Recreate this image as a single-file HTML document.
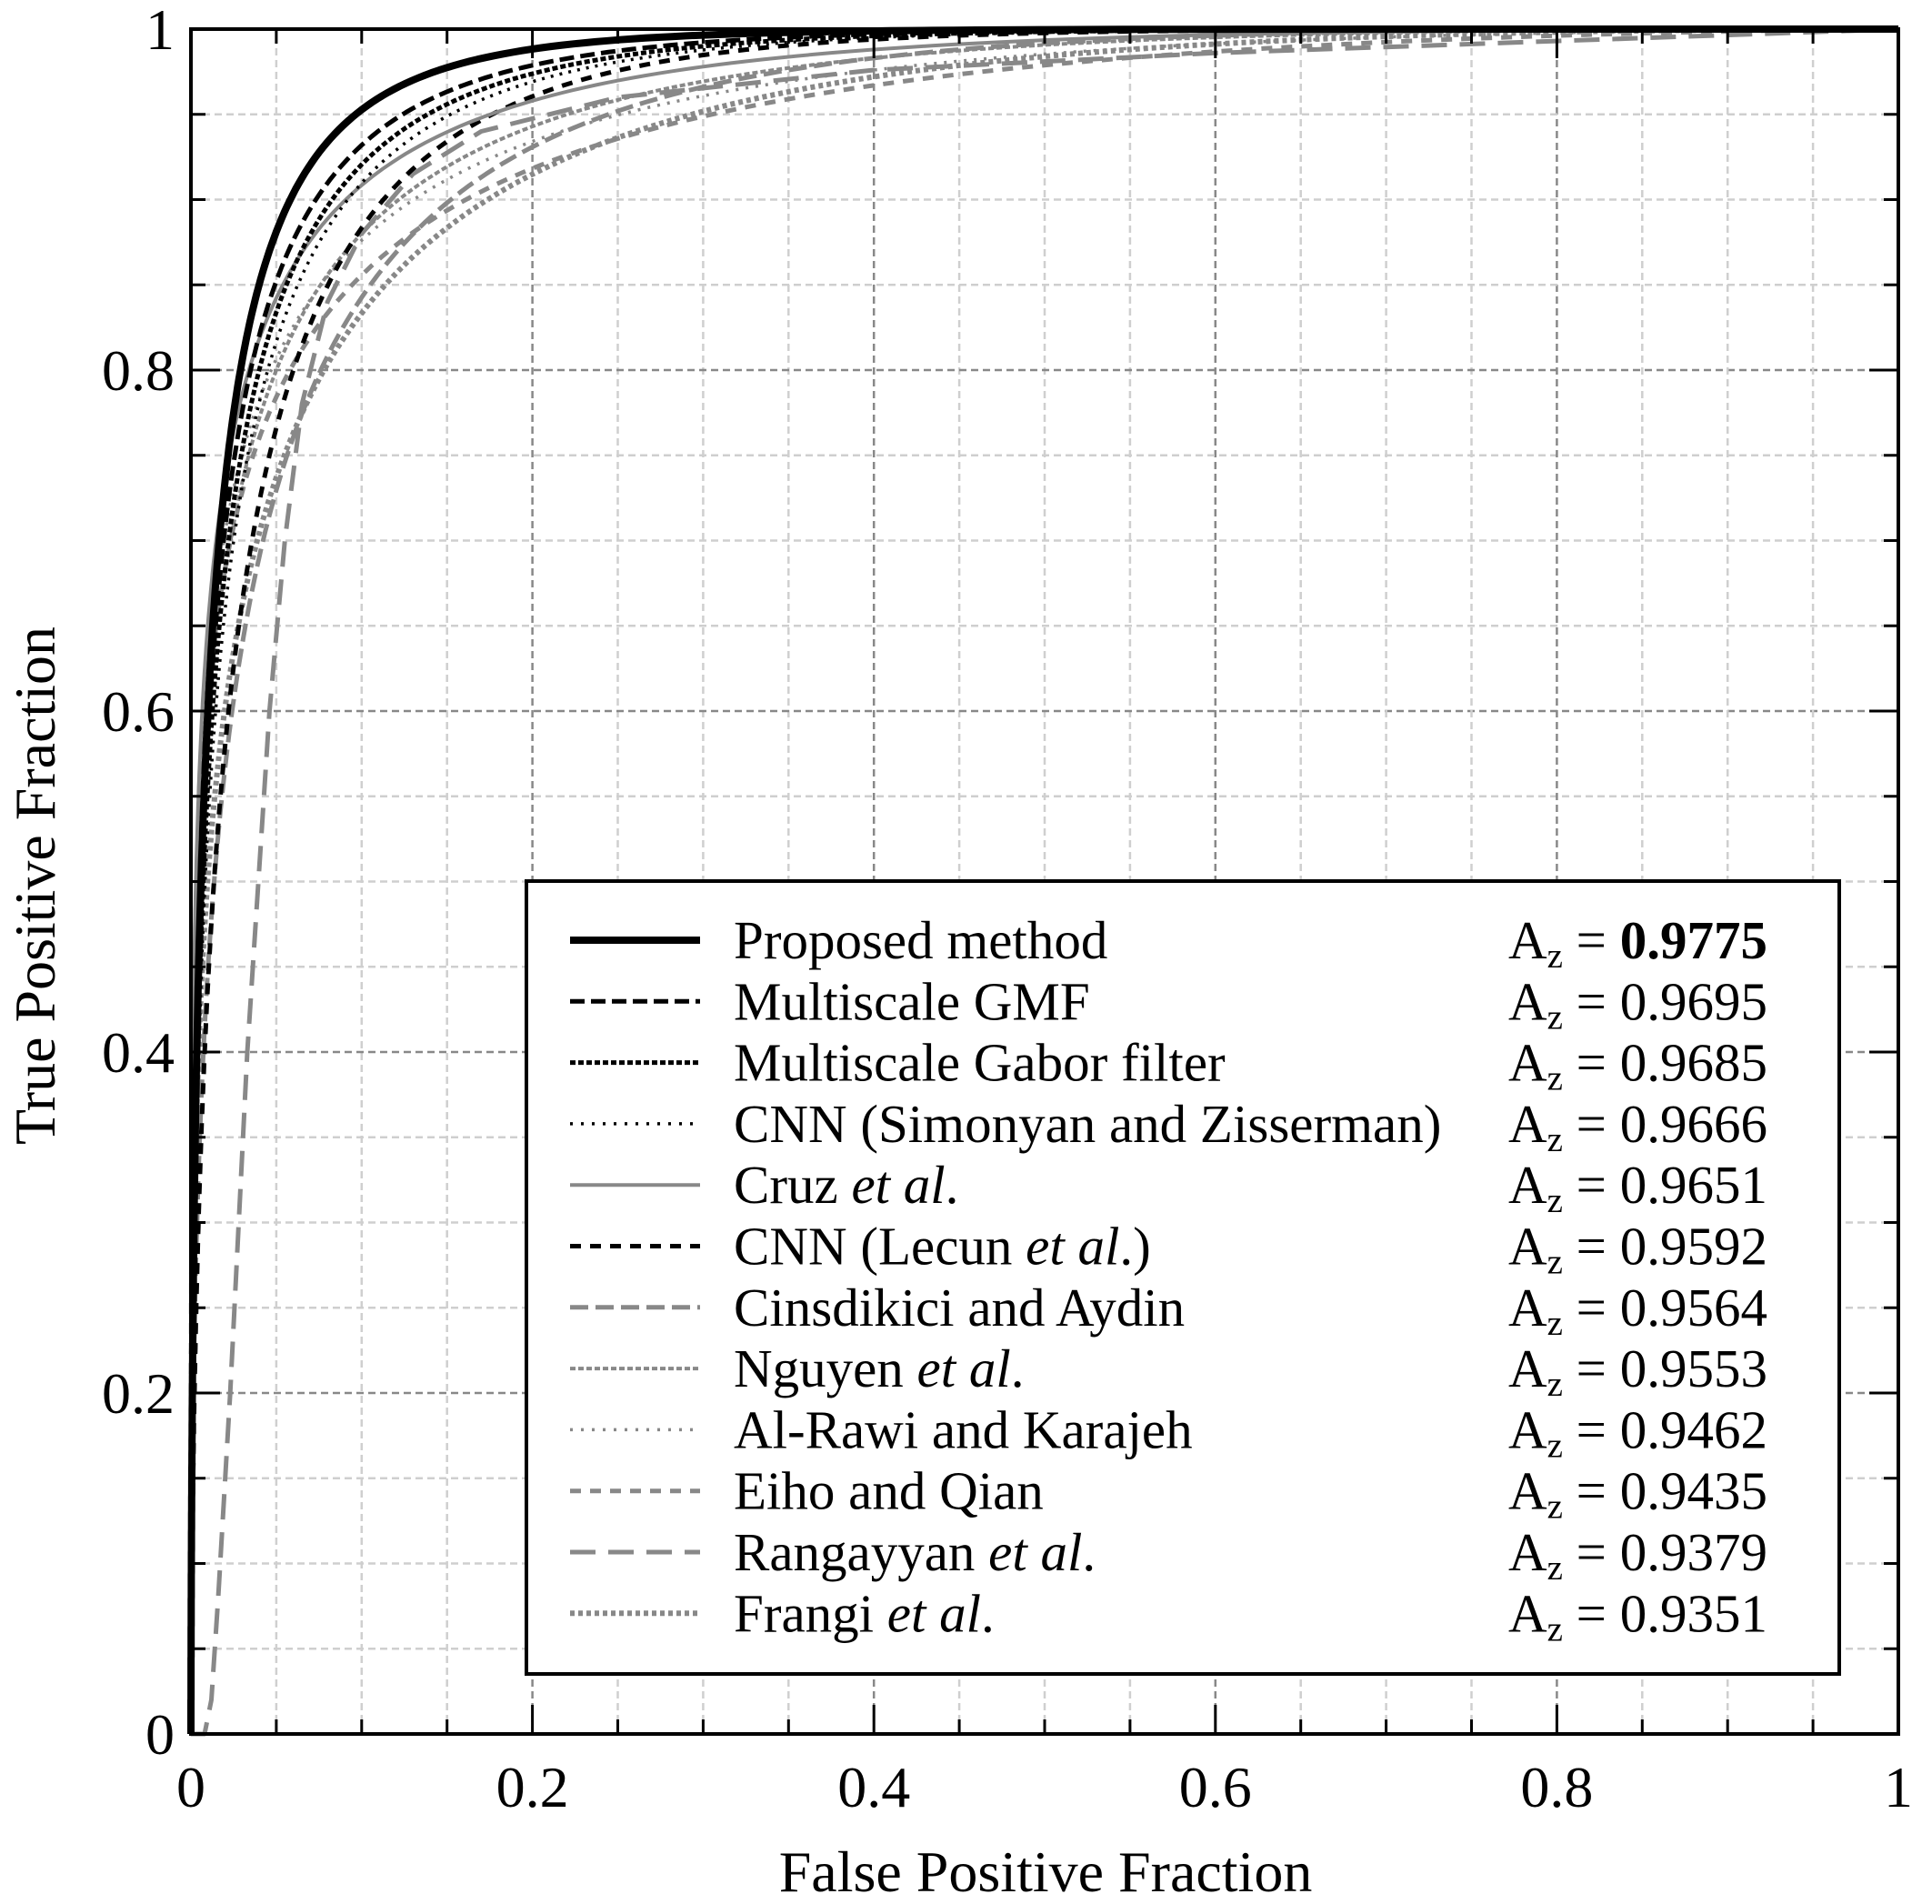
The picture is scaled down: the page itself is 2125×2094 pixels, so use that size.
<!DOCTYPE html>
<html><head><meta charset="utf-8"><style>
html,body{margin:0;padding:0;background:#fff;}
svg{display:block;font-family:"Liberation Serif",serif;}
</style></head><body>
<svg id="s" width="2125" height="2094" viewBox="0 0 2125 2094" xmlns="http://www.w3.org/2000/svg">
<rect width="2125" height="2094" fill="#fff"/>
<g id="grid"></g>
<g id="curves"></g>
<g id="frame"></g>
<g id="legend"></g>
<g id="labels" font-size="64" fill="#000"></g>
<text x="1150" y="2080" font-size="64" text-anchor="middle">False Positive Fraction</text>
<text transform="translate(60,974) rotate(-90)" font-size="64" text-anchor="middle">True Positive Fraction</text>
</svg>
<script>
var NS="http://www.w3.org/2000/svg";
var X0=210,X1=2088,Y0=1907,Y1=32;
function X(u){return X0+(X1-X0)*u;}
function Y(v){return Y0-(Y0-Y1)*v;}
function el(tag,attrs,parent,text){var e=document.createElementNS(NS,tag);for(var k in attrs)e.setAttribute(k,attrs[k]);if(text!==undefined)e.textContent=text;parent.appendChild(e);return e;}
var grid=document.getElementById('grid'),frame=document.getElementById('frame'),labels=document.getElementById('labels');
for(var i=1;i<20;i++){var t=i/20,maj=(i%4==0);
 var c=maj?'#888':'#cfcfcf';
 el('line',{x1:X(t),y1:Y0,x2:X(t),y2:Y1,stroke:c,'stroke-width':2.5,'stroke-dasharray':'8 5'},grid);
 el('line',{x1:X0,y1:Y(t),x2:X1,y2:Y(t),stroke:c,'stroke-width':2.5,'stroke-dasharray':'8 5'},grid);
}
el('rect',{x:X0,y:Y1,width:X1-X0,height:Y0-Y1,fill:'none',stroke:'#000','stroke-width':4},frame);
for(var i=1;i<20;i++){var t=i/20,L=(i%4==0)?32:16;
 el('line',{x1:X(t),y1:Y0,x2:X(t),y2:Y0-L,stroke:'#000','stroke-width':3},frame);
 el('line',{x1:X(t),y1:Y1,x2:X(t),y2:Y1+L,stroke:'#000','stroke-width':3},frame);
 el('line',{x1:X0,y1:Y(t),x2:X0+L,y2:Y(t),stroke:'#000','stroke-width':3},frame);
 el('line',{x1:X1,y1:Y(t),x2:X1-L,y2:Y(t),stroke:'#000','stroke-width':3},frame);
}
var tl=['0','0.2','0.4','0.6','0.8','1'];
for(var i=0;i<6;i++){
 el('text',{x:X(i/5),y:1987,'text-anchor':'middle'},labels,tl[i]);
 el('text',{x:192,y:Y(i/5)+22,'text-anchor':'end'},labels,tl[i]);
}
function erf(x){var s=x<0?-1:1;x=Math.abs(x);var t=1/(1+0.3275911*x);
 var y=1-(((((1.061405429*t-1.453152027)*t)+1.421413741)*t-0.284496736)*t+0.254829592)*t*Math.exp(-x*x);return s*y;}
function Phi(z){return 0.5*(1+erf(z/Math.SQRT2));}
function Pinv(p){var a=[-39.69683028665376,220.9460984245205,-275.9285104469687,138.3577518672690,-30.66479806614716,2.506628277459239],
b=[-54.47609879822406,161.5858368580409,-155.6989798598866,66.80131188771972,-13.28068155288572],
c=[-0.007784894002430293,-0.3223964580411365,-2.400758277161838,-2.549732539343734,4.374664141464968,2.938163982698783],
d=[0.007784695709041462,0.3224671290700398,2.445134137142996,3.754408661907416];
var pl=0.02425,q,r;
if(p<pl){q=Math.sqrt(-2*Math.log(p));return (((((c[0]*q+c[1])*q+c[2])*q+c[3])*q+c[4])*q+c[5])/((((d[0]*q+d[1])*q+d[2])*q+d[3])*q+1);}
if(p>1-pl){q=Math.sqrt(-2*Math.log(1-p));return -(((((c[0]*q+c[1])*q+c[2])*q+c[3])*q+c[4])*q+c[5])/((((d[0]*q+d[1])*q+d[2])*q+d[3])*q+1);}
q=p-0.5;r=q*q;return (((((a[0]*r+a[1])*r+a[2])*r+a[3])*r+a[4])*r+a[5])*q/(((((b[0]*r+b[1])*r+b[2])*r+b[3])*r+b[4])*r+1);}
var z8=Pinv(0.8);
function addPath(pts,col,w,dash){
 var d='M'+pts.map(function(p){return X(p[0]).toFixed(1)+','+Y(p[1]).toFixed(1);}).join('L');
 var at={d:d,fill:'none',stroke:col,'stroke-width':w,'stroke-linejoin':'round'};
 if(dash)at['stroke-dasharray']=dash;
 el('path',at,document.getElementById('curves'));
}
function curve(u8,v4,col,w,dash){
 var b=(Pinv(v4)-z8)/(Pinv(0.4)-Pinv(u8)),a=z8-b*Pinv(u8);
 var pts=[[0,0]];
 for(var k=0;k<=400;k++){var u=Math.pow(10,-5+5*k/400);if(u>=1)u=0.999999;
  pts.push([u,Phi(a+b*Pinv(u))]);}
 pts.push([1,1]);
 addPath(pts,col,w,dash);
}
var G='#888';
curve(0.078,0.972,G,6,'5 4');
addPath([[0,0],[0.008,0],[0.012,0.02],[0.016,0.08],[0.023,0.2],[0.033,0.4],[0.046,0.6],[0.055,0.7],[0.065,0.78],[0.08,0.84],[0.1,0.88],[0.13,0.915],[0.17,0.94],[0.25,0.96],[0.4,0.976],[0.6,0.986],[0.8,0.993],[1,1]],G,5,'28 14');
curve(0.058,0.967,G,5,'12 10');
curve(0.047,0.976,G,3.5,'3 8');
curve(0.050,0.983,G,4,'6 3');
curve(0.076,0.983,G,5,'20 8');
curve(0.060,0.994,'#000',5,'12 10');
curve(0.034,0.988,G,4,null);
curve(0.045,0.995,'#000',3.5,'3 7');
curve(0.040,0.996,'#000',5,'6 3');
curve(0.035,0.997,'#000',5,'16 7');
curve(0.029,0.9989,'#000',8,null);
var lg=document.getElementById('legend');
el('rect',{x:579,y:969,width:1444,height:872,fill:'#fff',stroke:'#000','stroke-width':4},lg);
var leg=[
 ['Proposed method','','','#000',8,null,'0.9775',true],
 ['Multiscale GMF','','','#000',5,'16 7','0.9695'],
 ['Multiscale Gabor filter','','','#000',5,'6 3','0.9685'],
 ['CNN (Simonyan and Zisserman)','','','#000',3.5,'3 9','0.9666'],
 ['Cruz ','et al','.','#888',4,null,'0.9651'],
 ['CNN (Lecun ','et al','.)','#000',5,'12 10','0.9592'],
 ['Cinsdikici and Aydin','','','#888',5,'20 8','0.9564'],
 ['Nguyen ','et al','.','#888',4,'6 3','0.9553'],
 ['Al-Rawi and Karajeh','','','#888',3.5,'3 9','0.9462'],
 ['Eiho and Qian','','','#888',5,'12 10','0.9435'],
 ['Rangayyan ','et al','.','#888',5,'28 14','0.9379'],
 ['Frangi ','et al','.','#888',6,'5 4','0.9351']
];
leg.forEach(function(r,i){
 var y=1034+67.3*i;
 var at={x1:627,y1:y,x2:770,y2:y,stroke:r[3],'stroke-width':r[4]};
 if(r[5])at['stroke-dasharray']=r[5];
 el('line',at,lg);
 var t=el('text',{x:807,y:y+20,'font-size':59},lg);
 el('tspan',{},t,r[0]);
 if(r[1]){el('tspan',{'font-style':'italic'},t,r[1]);el('tspan',{},t,r[2]);}
 var t2=el('text',{x:1659,y:y+20,'font-size':59},lg);
 el('tspan',{},t2,'A');
 el('tspan',{'font-size':39,dy:10},t2,'z');
 el('tspan',{dy:-10},t2,' = ');
 el('tspan',r[7]?{'font-weight':'bold'}:{},t2,r[6]);
});
</script>
</body></html>
